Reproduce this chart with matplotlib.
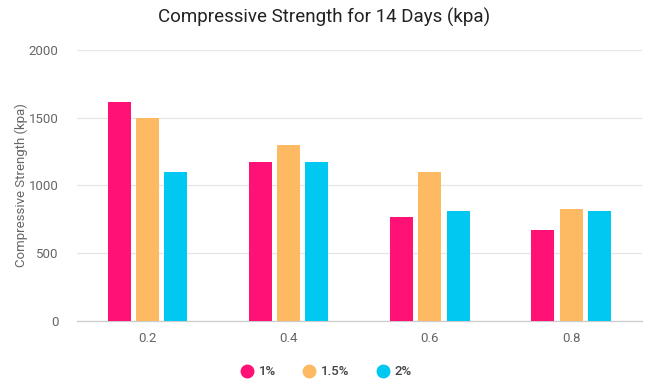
import matplotlib
matplotlib.use("Agg")
import matplotlib.pyplot as plt
import numpy as np
from matplotlib.lines import Line2D

plt.rcParams['font.family'] = ['Roboto', 'DejaVu Sans']

categories = ["0.2", "0.4", "0.6", "0.8"]
series_names = ["1%", "1.5%", "2%"]
s_1pct = [1620, 1170, 765, 670]
s_15pct = [1500, 1300, 1100, 825]
s_2pct = [1100, 1170, 810, 810]
yticks = [0, 500, 1000, 1500, 2000]

colors = ["#FF1176", "#FDBA63", "#00C8F0"]

fig = plt.figure(figsize=(6.45, 3.8), dpi=100)
ax = fig.add_axes([0.119, 0.156, 0.876, 0.712])

x = np.arange(len(categories))
width = 0.163
offsets = [-0.2, 0.0, 0.2]
for vals, off, c in zip([s_1pct, s_15pct, s_2pct], offsets, colors):
    ax.bar(x + off, vals, width=width, color=c, zorder=3)

ax.set_xlim(-0.5, len(categories) - 0.5)
ax.set_ylim(0, 2000)
ax.set_yticks(yticks)
ax.set_yticklabels([str(v) for v in yticks])
ax.set_xticks(x)
ax.set_xticklabels(categories)
ax.tick_params(axis='both', length=0, labelsize=9.5, colors="#666666")
ax.tick_params(axis='y', pad=13)
ax.tick_params(axis='x', pad=8)
ax.grid(axis='y', color="#E6E6E6", linewidth=0.9, zorder=0)
for side in ["top", "right", "left"]:
    ax.spines[side].set_visible(False)
ax.spines["bottom"].set_color("#CCCCCC")
ax.spines["bottom"].set_linewidth(0.9)

ax.set_ylabel("Compressive Strength (kpa)", fontsize=9.5, color="#666666")
ax.yaxis.set_label_coords(-0.086, 0.5)
fig.text(0.502, 0.955, "Compressive Strength for 14 Days (kpa)", ha="center", va="center",
         fontsize=13.5, color="#222222")

handles = [Line2D([0], [0], marker='o', linestyle='none', markersize=9,
                  markerfacecolor=c, markeredgecolor=c) for c in colors]
leg = fig.legend(handles, series_names, loc="center", bbox_to_anchor=(0.505, 0.022),
                 ncol=3, frameon=False, fontsize=9.5, handletextpad=0.3,
                 columnspacing=1.9, handlelength=1.2)
for t in leg.get_texts():
    t.set_color("#444444")
    t.set_fontweight("medium")

fig.savefig("out.png", dpi=100, facecolor="white")
